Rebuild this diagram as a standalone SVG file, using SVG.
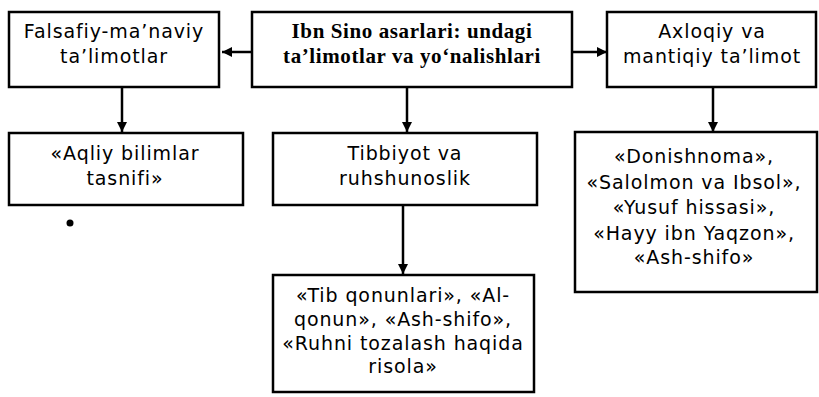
<svg xmlns="http://www.w3.org/2000/svg" width="819" height="397" viewBox="0 0 819 397">
<defs>
<marker id="ah" viewBox="0 0 10 10" refX="10" refY="5" markerWidth="10" markerHeight="10" markerUnits="userSpaceOnUse" orient="auto">
<path d="M0,0 L10,5 L0,10 z" fill="#000"/>
</marker>
</defs>
<style>
.box{fill:#fff;stroke:#000;stroke-width:2.5}
.t{font-family:"DejaVu Sans","Liberation Sans",Arial,sans-serif;font-size:19px;letter-spacing:0.9px;fill:#000;text-anchor:middle}
.b{font-family:"Liberation Serif","Times New Roman",serif;font-size:21px;letter-spacing:0.6px;font-weight:bold;fill:#000;text-anchor:middle}
.c{stroke:#000;stroke-width:2.5;fill:none;marker-end:url(#ah)}
</style>
<rect width="819" height="397" fill="#fff"/>
<g id="connectors">
<path class="c" d="M252,52 H222"/>
<path class="c" d="M572,52 H607"/>
<path class="c" d="M122,88 V132"/>
<path class="c" d="M407,88 V132"/>
<path class="c" d="M713,88 V132"/>
<path class="c" d="M403,205 V274"/>
</g>
<g id="n-falsafiy">
<rect class="box" x="9" y="12" width="210" height="75"/>
<text class="t" x="114" y="38">Falsafiy-ma’naviy</text>
<text class="t" x="114" y="63">ta’limotlar</text>
</g>
<g id="n-center">
<rect class="box" x="252" y="12" width="320" height="75"/>
<text class="b" x="412" y="38">Ibn Sino asarlari: undagi</text>
<text class="b" x="412" y="63">ta’limotlar va yo‘nalishlari</text>
</g>
<g id="n-axloqiy">
<rect class="box" x="607" y="12" width="209" height="75"/>
<text class="t" x="712" y="38">Axloqiy va</text>
<text class="t" x="712" y="63">mantiqiy  ta’limot</text>
</g>
<g id="n-aqliy">
<rect class="box" x="9" y="133" width="234" height="72"/>
<text class="t" x="125" y="160">«Aqliy bilimlar</text>
<text class="t" x="125" y="185">tasnifi»</text>
</g>
<g id="n-tibbiyot">
<rect class="box" x="273" y="133" width="264" height="72"/>
<text class="t" x="405" y="160">Tibbiyot va</text>
<text class="t" x="405" y="185">ruhshunoslik</text>
</g>
<g id="n-asarlar">
<rect class="box" x="575" y="132" width="242" height="160"/>
<text class="t" x="694" y="163">«Donishnoma»,</text>
<text class="t" x="694" y="189">«Salolmon va Ibsol»,</text>
<text class="t" x="694" y="214">«Yusuf hissasi»,</text>
<text class="t" x="694" y="240">«Hayy ibn Yaqzon»,</text>
<text class="t" x="694" y="264">«Ash-shifo»</text>
</g>
<g id="n-tib">
<rect class="box" x="273" y="275" width="261" height="117"/>
<text class="t" x="403" y="302">«Tib qonunlari», «Al-</text>
<text class="t" x="403" y="326">qonun», «Ash-shifo»,</text>
<text class="t" x="403" y="350">«Ruhni tozalash haqida</text>
<text class="t" x="403" y="373">risola»</text>
</g>
<circle cx="70" cy="223" r="3.5" fill="#000"/>
</svg>
